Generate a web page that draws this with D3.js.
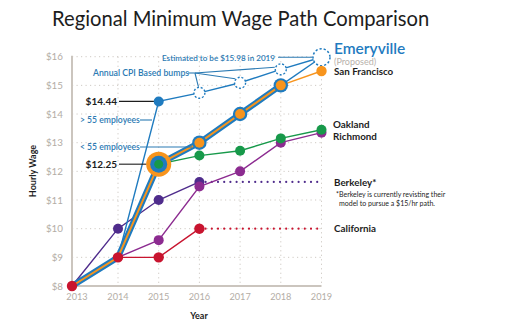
<!DOCTYPE html>
<html>
<head>
<meta charset="utf-8">
<script src="https://cdn.jsdelivr.net/npm/d3@7/dist/d3.min.js"></script>
<style>
  html, body { margin: 0; padding: 0; background: #fff; }
  svg { display: block; font-family: Lato, "Open Sans", sans-serif; }
</style>
</head>
<body>
<svg id="chart" width="520" height="325"></svg>
<script>
// ---- data ----
const years = [2013, 2014, 2015, 2016, 2017, 2018, 2019];
const yTicks = [8, 9, 10, 11, 12, 13, 14, 15, 16];
const sanFrancisco = [8, 9, 12.25, 13, 14, 15, 15.5];
const emeryvilleSmall = [8, 9, 12.25, 13, 14, 15, 15.98];
const emeryvilleLarge = [null, 9, 14.44, 14.74, 15.09, 15.56, 15.98];
const oakland = [8, 9, 12.25, 12.55, 12.72, 13.15, 13.45];
const richmond = [8, 9, 9.6, 11.47, 12, 13, 13.35];
const berkeley = [8, 10, 11, 11.63, null, null, null];
const berkeleyProjected = [null, null, null, 11.63, 11.63, 11.63, 11.63];
const california = [8, 9, 9, 10, null, null, null];
const californiaProjected = [null, null, null, 10, 10, 10, 10];

const C = {
  blue: "#1f7bbf", orange: "#f7941d", green: "#17994a", magenta: "#8c2b90",
  purple: "#4f2c8c", red: "#c8142f", grid: "#cfcac4", axis: "#cbc5be",
  tick: "#b3ada6", note: "#2b7ab3", ink: "#1d1d1d"
};

const svg = d3.select("#chart");
const x = d3.scaleLinear().domain([2013, 2014, 2019]).range([72, 118, 321.5]);
const y = d3.scaleLinear().domain([8, 16]).range([286, 56.7]);

const pts = arr => years.map((yr, i) => [yr, arr[i]]).filter(d => d[1] != null);
const line = d3.line().x(d => x(d[0])).y(d => y(d[1]));

// title
svg.append("text").attr("x", 52).attr("y", 26).attr("font-size", 20.2).attr("fill", C.ink)
  .text("Regional Minimum Wage Path Comparison");

// grid
const g = svg.append("g");
g.selectAll(".hg").data(yTicks.slice(1)).join("line")
  .attr("x1", x(2013)).attr("x2", x(2019)).attr("y1", d => y(d)).attr("y2", d => y(d))
  .attr("stroke", C.grid).attr("stroke-width", 1).attr("stroke-dasharray", "1.2,3.3");
g.selectAll(".vg").data(years.slice(1)).join("line")
  .attr("x1", d => x(d)).attr("x2", d => x(d)).attr("y1", y(16)).attr("y2", y(8))
  .attr("stroke", C.grid).attr("stroke-width", 1).attr("stroke-dasharray", "1.2,3.3");

// axes lines
svg.append("line").attr("x1", x(2013)).attr("x2", x(2013)).attr("y1", y(16) - 1).attr("y2", y(8) + 1)
  .attr("stroke", C.axis).attr("stroke-width", 2);
svg.append("line").attr("x1", x(2013)).attr("x2", x(2019)).attr("y1", y(8)).attr("y2", y(8))
  .attr("stroke", C.axis).attr("stroke-width", 2);

// tick labels
svg.selectAll(".yt").data(yTicks).join("text")
  .attr("x", 63).attr("y", d => y(d) + 3.5).attr("text-anchor", "end")
  .attr("font-size", 9.8).attr("fill", C.tick).text(d => "$" + d);
svg.selectAll(".xt").data(years).join("text")
  .attr("x", d => x(d) + (d === 2013 ? 5 : 0)).attr("y", 300).attr("text-anchor", "middle")
  .attr("font-size", 9.2).attr("fill", C.tick).text(d => d);

// axis titles
svg.append("text").attr("transform", "translate(36,171) rotate(-90)").attr("text-anchor", "middle")
  .attr("font-size", 9).attr("font-weight", 700).attr("fill", C.ink).text("Hourly Wage");
svg.append("text").attr("x", 199).attr("y", 319).attr("text-anchor", "middle")
  .attr("font-size", 9).attr("font-weight", 700).attr("fill", C.ink).text("Year");

// series lines
const drawLine = (arr, color, w, dash) => svg.append("path").datum(pts(arr)).attr("d", line)
  .attr("fill", "none").attr("stroke", color).attr("stroke-width", w)
  .attr("stroke-dasharray", dash || null).attr("stroke-linecap", dash ? "round" : "butt");

drawLine(berkeleyProjected, C.purple, 2.2, "0,6.2");
drawLine(californiaProjected, C.red, 2.2, "0,6.2");
drawLine(berkeley, C.purple, 1.4);
drawLine(richmond, C.magenta, 1.4);
drawLine(california, C.red, 1.4);
drawLine(oakland, C.green, 1.4);
drawLine(emeryvilleLarge, C.blue, 1.4);
drawLine(sanFrancisco.map((v, i) => i >= 5 ? v : null), C.orange, 1.4);
drawLine(emeryvilleSmall.map((v, i) => i >= 5 ? v : null), C.blue, 1.4);
// thick ribbon (shared path of SF & Emeryville < 55)
drawLine(emeryvilleSmall.map((v, i) => i <= 5 ? v : null), C.blue, 6);
drawLine(sanFrancisco.map((v, i) => i <= 5 ? v : null), C.orange, 2);

// annotation connectors
const conn = (x1, y1, x2, y2, col) => svg.append("line").attr("x1", x1).attr("y1", y1)
  .attr("x2", x2).attr("y2", y2).attr("stroke", col).attr("stroke-width", 1.1);
conn(278, y(15.98), x(2019) - 9, y(15.98), C.note);
conn(188, 73, 195, 73, C.note);
conn(195, 73, x(2016) - 1, y(emeryvilleLarge[3]) - 6, C.note);
conn(195, 73, x(2017) - 5, y(emeryvilleLarge[4]) - 4, C.note);
conn(195, 73, x(2018) - 6, y(emeryvilleLarge[5]) - 2, C.note);
conn(140, 120, 152, 120, C.note);
conn(140, 147, 192, 147, C.note);
conn(119, y(14.44), x(2015) - 4, y(14.44), C.ink);
conn(119, y(12.25), x(2015) - 12, y(12.25), C.ink);

// points
const dot = (yr, v, r, fill, stroke, sw, dash) => svg.append("circle")
  .attr("cx", x(yr)).attr("cy", y(v)).attr("r", r).attr("fill", fill)
  .attr("stroke", stroke || "none").attr("stroke-width", sw || 0)
  .attr("stroke-dasharray", dash || null);

[2014, 2015, 2016].forEach((yr, k) => dot(yr, berkeley[k + 1], 5, C.purple));
[2015, 2016, 2017, 2018, 2019].forEach(yr => dot(yr, richmond[years.indexOf(yr)], 5, C.magenta));
[2016, 2017, 2018, 2019].forEach(yr => dot(yr, oakland[years.indexOf(yr)], 5, C.green));
[2016, 2017, 2018].forEach(yr => { dot(yr, sanFrancisco[years.indexOf(yr)], 7.2, C.blue); dot(yr, sanFrancisco[years.indexOf(yr)], 5, C.orange); });
[2016, 2017, 2018].forEach(yr => dot(yr, emeryvilleLarge[years.indexOf(yr)], 5.5, "#fff", C.blue, 1.4, "2,1.8"));
dot(2019, emeryvilleSmall[6], 8.5, "#fff", C.blue, 1.5, "2.2,2");
dot(2019, sanFrancisco[6], 5.2, C.orange);
dot(2015, emeryvilleLarge[2], 5, C.blue);
dot(2015, sanFrancisco[2], 12.5, C.orange);
dot(2015, emeryvilleSmall[2], 8.5, C.blue);
dot(2015, oakland[2], 4.5, C.green);
[2013, 2014, 2015, 2016].forEach(yr => dot(yr, california[years.indexOf(yr)], 5.2, C.red));

// annotation texts
const txt = (s, xx, yy, size, col, wt, anchor) => svg.append("text").attr("x", xx).attr("y", yy)
  .attr("font-size", size).attr("fill", col).attr("font-weight", wt || 400)
  .attr("text-anchor", anchor || "start").text(s);
txt("Estimated to be $15.98 in 2019", 162, 60.5, 8.1, C.note, 600);
txt("Annual CPI Based bumps", 93, 76, 8.7, C.note, 600);
txt("> 55 employees", 80, 123, 8.6, C.note, 600);
txt("< 55 employees", 80, 150, 8.6, C.note, 600);
txt("$14.44", 117, y(14.44) + 3.5, 10, C.ink, 700, "end");
txt("$12.25", 117, y(12.25) + 3.5, 10, C.ink, 700, "end");

// right labels
txt("Emeryville", 334, 53.5, 15.5, C.blue, 600);
txt("(Proposed)", 334, 64.5, 9, "#b8b2ab", 400);
txt("San Francisco", 334, 75, 9.8, C.ink, 700);
txt("Oakland", 333, 127.5, 9.8, C.ink, 700);
txt("Richmond", 333, 140, 9.8, C.ink, 700);
txt("Berkeley*", 334, 186, 9.8, C.ink, 700);
txt("*Berkeley is currently revisting their", 336, 196.5, 7, C.ink, 400);
txt("model to pursue a $15/hr path.", 339, 205.5, 7, C.ink, 400);
txt("California", 334, 231.5, 9.8, C.ink, 700);
</script>
</body>
</html>
